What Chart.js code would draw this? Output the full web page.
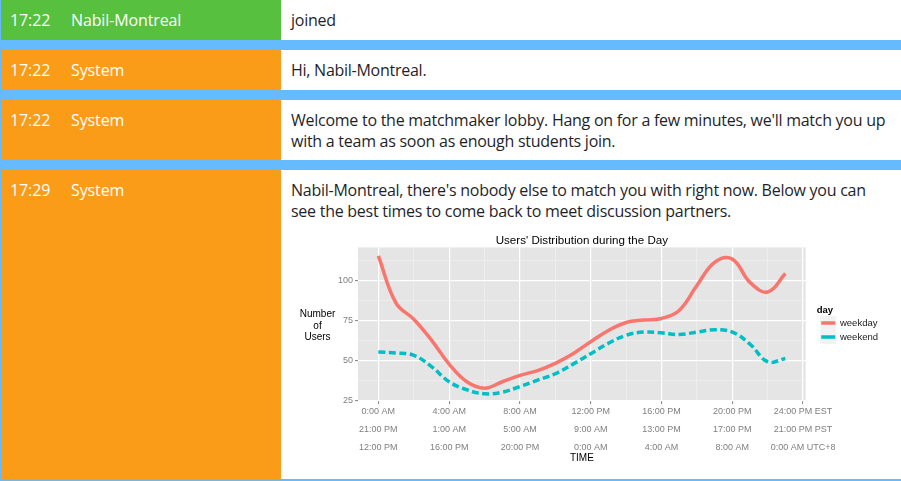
<!DOCTYPE html>
<html>
<head>
<meta charset="utf-8">
<script src="https://cdn.jsdelivr.net/npm/chart.js@4.4.1/dist/chart.umd.min.js"></script>
<style>
    html, body { margin: 0; padding: 0; background: #fff; }
    body { width: 901px; height: 481px; overflow: hidden; font-family: "Open Sans", sans-serif; }
    #log { position: relative; width: 900px; height: 479px; background: #66bbff; border-left: 1px solid #66bbff; border-bottom: 2px solid #66bbff; }
    .row { position: absolute; left: 0; width: 900px; display: flex; background: #fff; }
    .who { flex: 0 0 280px; width: 280px; color: #fff; box-sizing: border-box; padding: 10px 0 0 9px; font-size: 16px; line-height: 21px; letter-spacing: -0.12px; white-space: nowrap; }
    .who .time { display: inline-block; width: 61px; }
    .green { background: #57c03e; }
    .orange { background: #fa9c17; }
    .msg { flex: 1 1 auto; min-width: 0; padding: 10px 0 0 10px; font-size: 16px; line-height: 21px; letter-spacing: -0.26px; color: #1f1f2a; white-space: nowrap; }
    #chartBox { position: absolute; left: 290px; top: 229px; width: 600px; height: 240px; }
</style>
</head>
<body>
<div id="log">
    <div class="row" style="top:0;height:40px">
        <div class="who green"><span class="time">17:22</span>Nabil-Montreal</div>
        <div class="msg">joined</div>
    </div>
    <div class="row" style="top:50px;height:40px">
        <div class="who orange"><span class="time">17:22</span>System</div>
        <div class="msg">Hi, Nabil-Montreal.</div>
    </div>
    <div class="row" style="top:100px;height:60px">
        <div class="who orange"><span class="time">17:22</span>System</div>
        <div class="msg">Welcome to the matchmaker lobby. Hang on for a few minutes, we'll match you up<br>with a team as soon as enough students join.</div>
    </div>
    <div class="row" style="top:170px;height:309px">
        <div class="who orange"><span class="time">17:29</span>System</div>
        <div class="msg">Nabil-Montreal, there's nobody else to match you with right now. Below you can<br>see the best times to come back to meet discussion partners.</div>
    </div>
    <div id="chartBox"><canvas id="grafico" width="600" height="240"></canvas></div>
</div>
<script>
// horas do dia (EST) e média de usuários
const hours = [0, 1, 2, 3, 4, 5, 6, 7, 8, 9, 10, 11, 12, 13, 14, 15, 16, 17, 18, 19, 20, 21, 22, 23];
const weekday = [115.5, 86, 76, 63, 48, 37, 33, 37, 41, 44, 48.5, 54.5, 62, 69, 74, 75.5, 76.5, 81.5, 97, 111.5, 113.5, 99, 93, 104.5];
const weekend = [55.5, 55, 53.5, 46.5, 37, 32, 29.5, 30.5, 34, 38, 42, 48, 54.5, 61, 66, 68, 67.5, 66.5, 68, 69.5, 68, 60.5, 49.5, 51.5];

const xMajor = [0, 4, 8, 12, 16, 20, 24];
const xMinor = [2, 6, 10, 14, 18, 22];
const labelsEST = ["0:00 AM", "4:00 AM", "8:00 AM", "12:00 PM", "16:00 PM", "20:00 PM", "24:00 PM EST"];
const labelsPST = ["21:00 PM", "1:00 AM", "5:00 AM", "9:00 AM", "13:00 PM", "17:00 PM", "21:00 PM PST"];
const labelsUTC8 = ["12:00 PM", "16:00 PM", "20:00 PM", "0:00 AM", "4:00 AM", "8:00 AM", "0:00 AM UTC+8"];
const yMajor = [25, 50, 75, 100];
const yMinor = [37.5, 62.5, 87.5, 112.5];
const yTitle = ["Number", "of", "Users"];

const GRAY = "#7f7f7f";
Chart.defaults.font.family = "'Liberation Sans', Arial, sans-serif";

// fundo cinza do painel, caixas da legenda e título do eixo y
const painelPlugin = {
    id: "painel",
    afterLayout(chart) {
        // empurra a legenda um pouco para a direita, como no ggplot
        const lg = chart.legend;
        lg.left += 11;
        lg.right += 11;
        lg.top += 1.5;
        lg.bottom += 1.5;
    },
    beforeDraw(chart) {
        const { ctx, chartArea: a } = chart;
        ctx.save();
        ctx.fillStyle = "#e5e5e5";
        ctx.fillRect(a.left, a.top, a.right - a.left, a.bottom - a.top);
        ctx.fillStyle = "#f2f2f2";
        (chart.legend.legendHitBoxes || []).forEach(h => {
            const cy = h.top + h.height / 2;
            ctx.fillRect(h.left - 1, cy - 7, 16, 14);
        });
        ctx.restore();
    },
    afterDraw(chart) {
        const { ctx, chartArea: a } = chart;
        const cy = (a.top + a.bottom) / 2;
        ctx.save();
        ctx.font = "10px 'Liberation Sans', Arial, sans-serif";
        ctx.fillStyle = "#000";
        ctx.textAlign = "center";
        ctx.textBaseline = "middle";
        yTitle.forEach((t, i) => ctx.fillText(t, 26.5, cy - 9.5 + i * 11.5));
        ctx.restore();
    }
};

function isMajor(list, v) {
    return list.indexOf(v) >= 0;
}

new Chart(document.getElementById("grafico").getContext("2d"), {
    type: "line",
    data: {
        datasets: [{
            label: "weekday",
            data: hours.map((h, i) => ({ x: h, y: weekday[i] })),
            borderColor: "#f8766d",
            backgroundColor: "#f8766d",
            borderWidth: 3.5,
            tension: 0.4,
            pointRadius: 0,
            fill: false
        }, {
            label: "weekend",
            data: hours.map((h, i) => ({ x: h, y: weekend[i] })),
            borderColor: "#00bfc4",
            backgroundColor: "#00bfc4",
            borderWidth: 3.5,
            borderDash: [7, 3.5],
            tension: 0.4,
            pointRadius: 0,
            fill: false
        }]
    },
    options: {
        responsive: false,
        animation: false,
        devicePixelRatio: 1,
        layout: { padding: { right: 14 } },
        plugins: {
            tooltip: { enabled: false },
            title: {
                display: true,
                text: "Users' Distribution during the Day",
                fullSize: false,
                color: "#000",
                font: { size: 11.6, weight: "normal" },
                padding: { top: 4.5, bottom: 0 }
            },
            legend: {
                position: "right",
                fullSize: false,
                align: "center",
                title: {
                    display: true,
                    text: "day",
                    position: "start",
                    color: "#000",
                    font: { size: 9.5, weight: "bold" },
                    padding: { top: 0, bottom: -3 }
                },
                labels: {
                    usePointStyle: true,
                    pointStyle: "line",
                    pointStyleWidth: 14,
                    boxHeight: 9,
                    color: "#1a1a1a",
                    font: { size: 9.5 },
                    padding: 4.5
                }
            }
        },
        scales: {
            x: {
                type: "linear",
                min: -1.15,
                max: 24.15,
                afterBuildTicks: s => { s.ticks = xMajor.concat(xMinor).sort((a, b) => a - b).map(v => ({ value: v })); },
                afterFit: s => { s.height = 68; },
                border: { display: false },
                grid: {
                    color: c => isMajor(xMajor, c.tick.value) ? "#ffffff" : "#f2f2f2",
                    lineWidth: c => isMajor(xMajor, c.tick.value) ? 1.2 : 0.6,
                    tickColor: c => isMajor(xMajor, c.tick.value) ? GRAY : "rgba(0,0,0,0)",
                    tickLength: 3,
                    tickWidth: 1
                },
                ticks: {
                    autoSkip: false,
                    maxRotation: 0,
                    color: GRAY,
                    padding: -1.5,
                    font: { size: 9, lineHeight: 2 },
                    callback: v => {
                        const i = xMajor.indexOf(v);
                        return i < 0 ? "" : [labelsEST[i], labelsPST[i], labelsUTC8[i]];
                    }
                },
                title: {
                    display: true,
                    text: "TIME",
                    color: "#000",
                    font: { size: 10 },
                    padding: { top: 0, bottom: 4.7 }
                }
            },
            y: {
                min: 25,
                max: 120.8,
                afterBuildTicks: s => { s.ticks = yMajor.concat(yMinor).sort((a, b) => a - b).map(v => ({ value: v })); },
                afterFit: s => { s.width = 67; },
                border: { display: false },
                grid: {
                    color: c => isMajor(yMajor, c.tick.value) ? "#ffffff" : "#f2f2f2",
                    lineWidth: c => isMajor(yMajor, c.tick.value) ? 1.2 : 0.6,
                    tickColor: c => isMajor(yMajor, c.tick.value) ? GRAY : "rgba(0,0,0,0)",
                    tickLength: 3,
                    tickWidth: 1
                },
                ticks: {
                    color: GRAY,
                    padding: 2,
                    font: { size: 9 },
                    callback: v => isMajor(yMajor, v) ? String(v) : ""
                }
            }
        }
    },
    plugins: [painelPlugin]
});
</script>
</body>
</html>
